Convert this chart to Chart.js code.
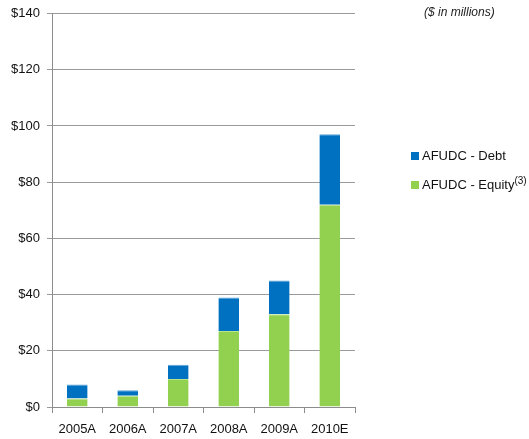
<!DOCTYPE html>
<html>
<head>
<meta charset="utf-8">
<script src="https://cdn.jsdelivr.net/npm/chart.js@4/dist/chart.umd.min.js"></script>
<style>
  html, body { margin:0; padding:0; background:#fff; }
  #wrap { position:relative; width:529px; height:439px; font-family:"Liberation Sans", Arial, sans-serif; }
  canvas { position:absolute; left:0; top:0; }
  .note { position:absolute; left:424px; top:5px; font-size:12px; font-style:italic; color:#222; }
  .leg { position:absolute; left:411px; font-size:13px; color:#111; white-space:nowrap; }
  .leg .sw { display:inline-block; width:8px; height:8px; margin-right:3px; vertical-align:0px; }
  .leg sup { font-size:10px; }
</style>
</head>
<body>
<div id="wrap">
  <canvas id="c" width="529" height="439"></canvas>
  <div class="note">($ in millions)</div>
  <div class="leg" style="top:148px;"><span class="sw" style="background:#0070C0"></span>AFUDC - Debt</div>
  <div class="leg" style="top:175px;"><span class="sw" style="background:#92D050"></span>AFUDC - Equity<sup>(3)</sup></div>
</div>
<script>
const categories = ["2005A", "2006A", "2007A", "2008A", "2009A", "2010E"];
const equityValues = [3, 4, 10, 27, 33, 72];
const debtValues = [5, 2, 5, 12, 12, 25];
const yTicks = [0, 20, 40, 60, 80, 100, 120, 140];

new Chart(document.getElementById('c'), {
  type: 'bar',
  data: {
    labels: categories,
    datasets: [
      { label: 'AFUDC - Equity', data: equityValues, backgroundColor: '#92D050',
        borderColor: '#B8E48C', borderWidth: {top:1, left:0, right:0, bottom:0}, borderSkipped: false },
      { label: 'AFUDC - Debt', data: debtValues, backgroundColor: '#0070C0',
        borderColor: '#5BA3DA', borderWidth: {top:1, left:0, right:0, bottom:0}, borderSkipped: false }
    ]
  },
  options: {
    responsive: false,
    animation: false,
    devicePixelRatio: 1,
    layout: { padding: { left: 0, right: 174, top: 0, bottom: 0 } },
    plugins: { legend: { display: false }, tooltip: { enabled: false } },
    datasets: { bar: { barPercentage: 0.41, categoryPercentage: 1.0 } },
    scales: {
      x: {
        stacked: true,
        afterFit: (axis) => { axis.height = 32; },
        grid: { display: true, drawOnChartArea: false, drawTicks: true, tickLength: 6, color: '#8c8c8c', offset: true },
        border: { display: true, color: '#8c8c8c', width: 1 },
        ticks: { color: '#111', font: { family: 'Liberation Sans', size: 13 }, padding: 9 }
      },
      y: {
        stacked: true,
        min: 0, max: 140,
        afterFit: (axis) => { axis.width = 52; },
        afterBuildTicks: (axis) => { axis.ticks = yTicks.map(v => ({ value: v })); },
        grid: { color: '#9a9a9a', lineWidth: 1, drawTicks: true, tickLength: 5 },
        border: { display: true, color: '#8c8c8c', width: 1 },
        ticks: { color: '#111', font: { family: 'Liberation Sans', size: 13, lineHeight: 1.0 }, padding: 7,
          callback: (v) => '$' + v }
      }
    }
  }
});
</script>
</body>
</html>
